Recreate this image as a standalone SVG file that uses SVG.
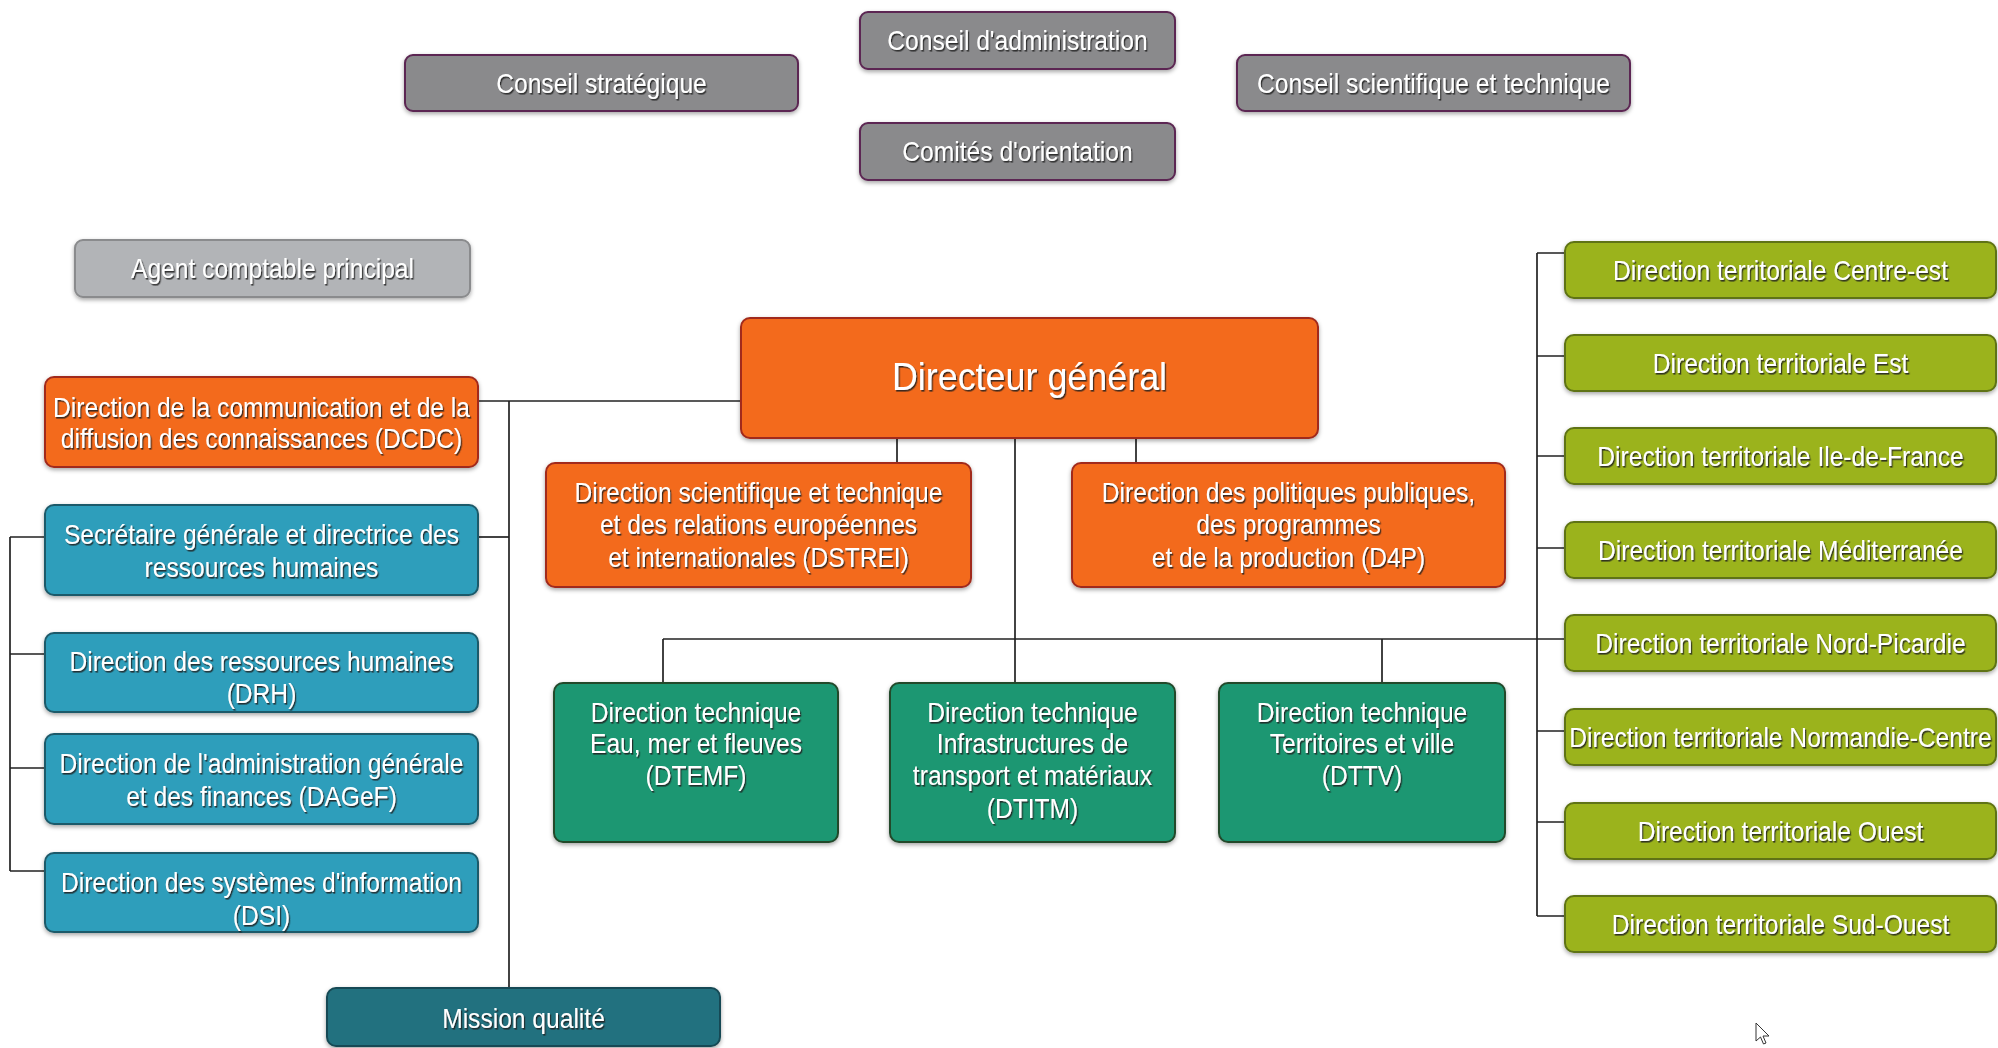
<svg xmlns="http://www.w3.org/2000/svg" width="1998" height="1048" viewBox="0 0 1998 1048">
<defs>
  <filter id="bs" x="-5%" y="-20%" width="110%" height="150%">
    <feDropShadow dx="0" dy="2" stdDeviation="2" flood-color="#000" flood-opacity="0.35"/>
  </filter>
  <filter id="ts" x="-5%" y="-30%" width="110%" height="160%">
    <feDropShadow dx="1.4" dy="1.6" stdDeviation="0.7" flood-color="#1a1a1a" flood-opacity="0.85"/>
  </filter>
</defs>
<style>
  .box { stroke-width: 2; filter: url(#bs); }
  .grey { fill: #8a8a8c; stroke: #5c2652; }
  .agent { fill: #b2b4b7; stroke: #8a8b8d; }
  .orange { fill: #f36b1e; stroke: #a12b1c; }
  .blue { fill: #2d9ebb; stroke: #1f5a6a; }
  .mission { fill: #24717f; stroke: #164a54; }
  .green { fill: #1a9772; stroke: #244a2c; }
  .lime { fill: #9bb31c; stroke: #5e7312; }
  .t { font-family: "Liberation Sans", Arial, sans-serif; font-size: 27.5px; fill: #ffffff; text-anchor: middle; filter: url(#ts); transform-box: fill-box; transform-origin: center; transform: scaleX(0.895); }
  .big { font-size: 39px; transform: scaleX(0.92); }
  .conn { fill: none; stroke: #222222; stroke-width: 1.7; }
</style>
<rect width="1998" height="1048" fill="#ffffff"/>

<g id="connectors" class="conn">
  <path d="M478 401 H741"/>
  <path d="M509 401 V988"/>
  <path d="M478 537 H509"/>
  <path d="M10 537 V871"/>
  <path d="M10 537 H45 M10 654 H45 M10 768 H45 M10 871 H45"/>
  <path d="M897 438 V463 M1136 438 V463"/>
  <path d="M1015 438 V683"/>
  <path d="M663 639 H1565"/>
  <path d="M663 639 V683 M1382 639 V683"/>
  <path d="M1537 253 V916"/>
  <path d="M1537 253 H1565 M1537 356 H1565 M1537 456 H1565 M1537 548 H1565 M1537 731 H1565 M1537 822 H1565 M1537 916 H1565"/>
</g>

<g id="conseil-administration"><rect class="box grey" x="860" y="12" width="315" height="57" rx="8"/><text class="t" x="1017.5" y="50">Conseil d'administration</text></g>
<g id="conseil-strategique"><rect class="box grey" x="405" y="55" width="393" height="56" rx="8"/><text class="t" x="601.5" y="93">Conseil stratégique</text></g>
<g id="comites-orientation"><rect class="box grey" x="860" y="123" width="315" height="57" rx="8"/><text class="t" x="1017.5" y="161">Comités d'orientation</text></g>
<g id="conseil-scientifique"><rect class="box grey" x="1237" y="55" width="393" height="56" rx="8"/><text class="t" x="1433.5" y="93">Conseil scientifique et technique</text></g>
<g id="agent-comptable"><rect class="box agent" x="75" y="240" width="395" height="57" rx="8"/><text class="t" x="272.5" y="278">Agent comptable principal</text></g>

<g id="directeur-general"><rect class="box orange" x="741" y="318" width="577" height="120" rx="9"/><text class="t big" x="1029.5" y="390">Directeur général</text></g>
<g id="dstrei"><rect class="box orange" x="546" y="463" width="425" height="124" rx="9"/><text class="t" x="758.5" y="502">Direction scientifique et technique</text><text class="t" x="758.5" y="534">et des relations européennes</text><text class="t" x="758.5" y="567">et internationales (DSTREI)</text></g>
<g id="d4p"><rect class="box orange" x="1072" y="463" width="433" height="124" rx="9"/><text class="t" x="1288.5" y="502">Direction des politiques publiques,</text><text class="t" x="1288.5" y="534">des programmes</text><text class="t" x="1288.5" y="567">et de la production (D4P)</text></g>

<g id="dcdc"><rect class="box orange" x="45" y="377" width="433" height="90" rx="9"/><text class="t" x="261.5" y="417">Direction de la communication et de la</text><text class="t" x="261.5" y="448">diffusion des connaissances (DCDC)</text></g>
<g id="secretaire-generale"><rect class="box blue" x="45" y="505" width="433" height="90" rx="9"/><text class="t" x="261.5" y="544">Secrétaire générale et directrice des</text><text class="t" x="261.5" y="577">ressources humaines</text></g>
<g id="drh"><rect class="box blue" x="45" y="633" width="433" height="79" rx="9"/><text class="t" x="261.5" y="671">Direction des ressources humaines</text><text class="t" x="261.5" y="703">(DRH)</text></g>
<g id="dagef"><rect class="box blue" x="45" y="734" width="433" height="90" rx="9"/><text class="t" x="261.5" y="773">Direction de l'administration générale</text><text class="t" x="261.5" y="806">et des finances (DAGeF)</text></g>
<g id="dsi"><rect class="box blue" x="45" y="853" width="433" height="79" rx="9"/><text class="t" x="261.5" y="892">Direction des systèmes d'information</text><text class="t" x="261.5" y="925">(DSI)</text></g>
<g id="mission-qualite"><rect class="box mission" x="327" y="988" width="393" height="58" rx="9"/><text class="t" x="523.5" y="1028">Mission qualité</text></g>

<g id="dtemf"><rect class="box green" x="554" y="683" width="284" height="159" rx="9"/><text class="t" x="696" y="722">Direction technique</text><text class="t" x="696" y="753">Eau, mer et fleuves</text><text class="t" x="696" y="785">(DTEMF)</text></g>
<g id="dtitm"><rect class="box green" x="890" y="683" width="285" height="159" rx="9"/><text class="t" x="1032.5" y="722">Direction technique</text><text class="t" x="1032.5" y="753">Infrastructures de</text><text class="t" x="1032.5" y="785">transport et matériaux</text><text class="t" x="1032.5" y="818">(DTITM)</text></g>
<g id="dttv"><rect class="box green" x="1219" y="683" width="286" height="159" rx="9"/><text class="t" x="1362" y="722">Direction technique</text><text class="t" x="1362" y="753">Territoires et ville</text><text class="t" x="1362" y="785">(DTTV)</text></g>

<g id="dt-centre-est"><rect class="box lime" x="1565" y="242" width="431" height="56" rx="9"/><text class="t" x="1780.5" y="280">Direction territoriale Centre-est</text></g>
<g id="dt-est"><rect class="box lime" x="1565" y="335" width="431" height="56" rx="9"/><text class="t" x="1780.5" y="373">Direction territoriale Est</text></g>
<g id="dt-idf"><rect class="box lime" x="1565" y="428" width="431" height="56" rx="9"/><text class="t" x="1780.5" y="466">Direction territoriale Ile-de-France</text></g>
<g id="dt-mediterranee"><rect class="box lime" x="1565" y="522" width="431" height="56" rx="9"/><text class="t" x="1780.5" y="560">Direction territoriale Méditerranée</text></g>
<g id="dt-nord-picardie"><rect class="box lime" x="1565" y="615" width="431" height="56" rx="9"/><text class="t" x="1780.5" y="653">Direction territoriale Nord-Picardie</text></g>
<g id="dt-normandie-centre"><rect class="box lime" x="1565" y="709" width="431" height="56" rx="9"/><text class="t" x="1780.5" y="747">Direction territoriale Normandie-Centre</text></g>
<g id="dt-ouest"><rect class="box lime" x="1565" y="803" width="431" height="56" rx="9"/><text class="t" x="1780.5" y="841">Direction territoriale Ouest</text></g>
<g id="dt-sud-ouest"><rect class="box lime" x="1565" y="896" width="431" height="56" rx="9"/><text class="t" x="1780.5" y="934">Direction territoriale Sud-Ouest</text></g>

<g id="cursor" transform="translate(1756 1023)"><path d="M0 0 V18 L4.5 14 L7.5 21 L10 20 L7 13 H13 Z" fill="#ffffff" stroke="#333333" stroke-width="1"/></g>
</svg>
